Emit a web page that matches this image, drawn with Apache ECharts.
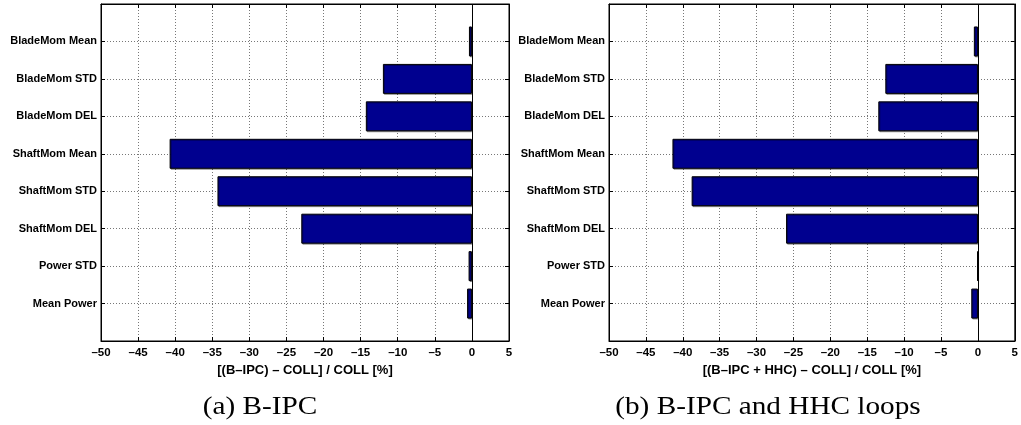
<!DOCTYPE html>
<html>
<head>
<meta charset="utf-8">
<script src="https://cdn.jsdelivr.net/npm/echarts@6/dist/echarts.min.js"></script>
<style>
html,body{margin:0;padding:0;background:#fff;}
#chart{width:1021px;height:425px;}
</style>
</head>
<body>
<div id="chart"></div>
<script>
// Categories, bottom to top (as drawn on the axis)
var categories = ['Mean Power', 'Power STD', 'ShaftMom DEL', 'ShaftMom STD', 'ShaftMom Mean', 'BladeMom DEL', 'BladeMom STD', 'BladeMom Mean'];
// (a) B-IPC
var valuesBIPC = [-0.65, -0.45, -23.0, -34.3, -40.75, -14.3, -12.0, -0.4];
// (b) B-IPC and HHC loops
var valuesBIPCHHC = [-0.9, -0.1, -26.0, -38.8, -41.4, -13.5, -12.55, -0.55];
var xTicks = [-50, -45, -40, -35, -30, -25, -20, -15, -10, -5, 0, 5];
var xTitles = ['[(B\u2013IPC) \u2013 COLL] / COLL [%]', '[(B\u2013IPC + HHC) \u2013 COLL] / COLL [%]'];
var captions = ['(a) B-IPC', '(b) B-IPC and HHC loops'];

var axisCats = [''].concat(categories).concat(['']);
function padData(v) { return [null].concat(v).concat([null]); }

var chart = echarts.init(document.getElementById('chart'), null, {renderer: 'canvas'});

var grids = [
  {left: 101, top: 4, width: 408, height: 337, show: true, borderColor: '#000', borderWidth: 1, backgroundColor: '#fff'},
  {left: 609, top: 4, width: 407, height: 337, show: true, borderColor: '#000', borderWidth: 1, backgroundColor: '#fff'}
];

var xMin = xTicks[0], xMax = xTicks[xTicks.length - 1], xInt = xTicks[1] - xTicks[0];
var tickFont = {fontFamily: '"Liberation Sans", Arial, sans-serif', fontWeight: 'bold', color: '#000'};

var xAxes = [], yAxes = [], series = [];
[0, 1].forEach(function (g) {
  xAxes.push({
    type: 'value', gridIndex: g, min: xMin, max: xMax, interval: xInt, position: 'bottom',
    axisLine: {show: true, lineStyle: {color: '#000', width: 1}},
    axisTick: {show: true, inside: true, length: 4, lineStyle: {color: '#000'}},
    axisLabel: Object.assign({fontSize: 11.5, margin: 6, formatter: function (v) { return String(v).replace('-', '\u2013'); }}, tickFont),
    splitLine: {show: true, lineStyle: {color: '#777', type: [1, 2], width: 1}},
    name: xTitles[g], nameLocation: 'middle', nameGap: 18,
    nameTextStyle: {fontSize: 13, fontWeight: 'bold', fontFamily: '"Liberation Sans", Arial, sans-serif', color: '#000'}
  });
  xAxes.push({
    type: 'value', gridIndex: g, min: xMin, max: xMax, interval: xInt, position: 'top',
    axisLine: {show: true, lineStyle: {color: '#000', width: 1}},
    axisTick: {show: true, inside: true, length: 4, lineStyle: {color: '#000'}},
    axisLabel: {show: false}, splitLine: {show: false}
  });
  yAxes.push({
    type: 'category', gridIndex: g, data: axisCats, boundaryGap: false, position: 'left',
    axisLine: {show: true, onZero: false, lineStyle: {color: '#000', width: 1}},
    axisTick: {show: true, inside: true, length: 4, lineStyle: {color: '#000'}},
    axisLabel: Object.assign({fontSize: 11, margin: 4, interval: 0}, tickFont),
    splitLine: {show: true, lineStyle: {color: '#777', type: [1, 2], width: 1}}
  });
  yAxes.push({
    type: 'category', gridIndex: g, data: axisCats, boundaryGap: false, position: 'right',
    axisLine: {show: true, onZero: false, lineStyle: {color: '#000', width: 1}},
    axisTick: {show: true, inside: true, length: 4, lineStyle: {color: '#000'}},
    axisLabel: {show: false}, splitLine: {show: false}
  });
  series.push({
    type: 'bar', xAxisIndex: g * 2, yAxisIndex: g * 2,
    data: padData(g === 0 ? valuesBIPC : valuesBIPCHHC),
    barWidth: '80%',
    itemStyle: {color: '#00008F', borderColor: '#000', borderWidth: 1,
      shadowColor: 'rgba(0,0,0,0.35)', shadowOffsetX: 1, shadowOffsetY: 1, shadowBlur: 0},
    silent: true, animation: false,
    markLine: {
      silent: true, symbol: 'none', animation: false,
      label: {show: false},
      lineStyle: {color: '#000', type: 'solid', width: 1},
      data: [{xAxis: 0}]
    }
  });
});

var option = {
  backgroundColor: '#fff',
  animation: false,
  grid: grids,
  xAxis: xAxes,
  yAxis: yAxes,
  series: series,
  graphic: [
    {type: 'text', x: 260, y: 407, scaleX: 1.17, silent: true,
     style: {text: captions[0], font: '25px "Liberation Serif", "Times New Roman", serif', align: 'center', verticalAlign: 'middle', fill: '#000'}},
    {type: 'text', x: 768, y: 407, scaleX: 1.17, silent: true,
     style: {text: captions[1], font: '25px "Liberation Serif", "Times New Roman", serif', align: 'center', verticalAlign: 'middle', fill: '#000'}}
  ]
};
chart.setOption(option);
</script>
</body>
</html>
